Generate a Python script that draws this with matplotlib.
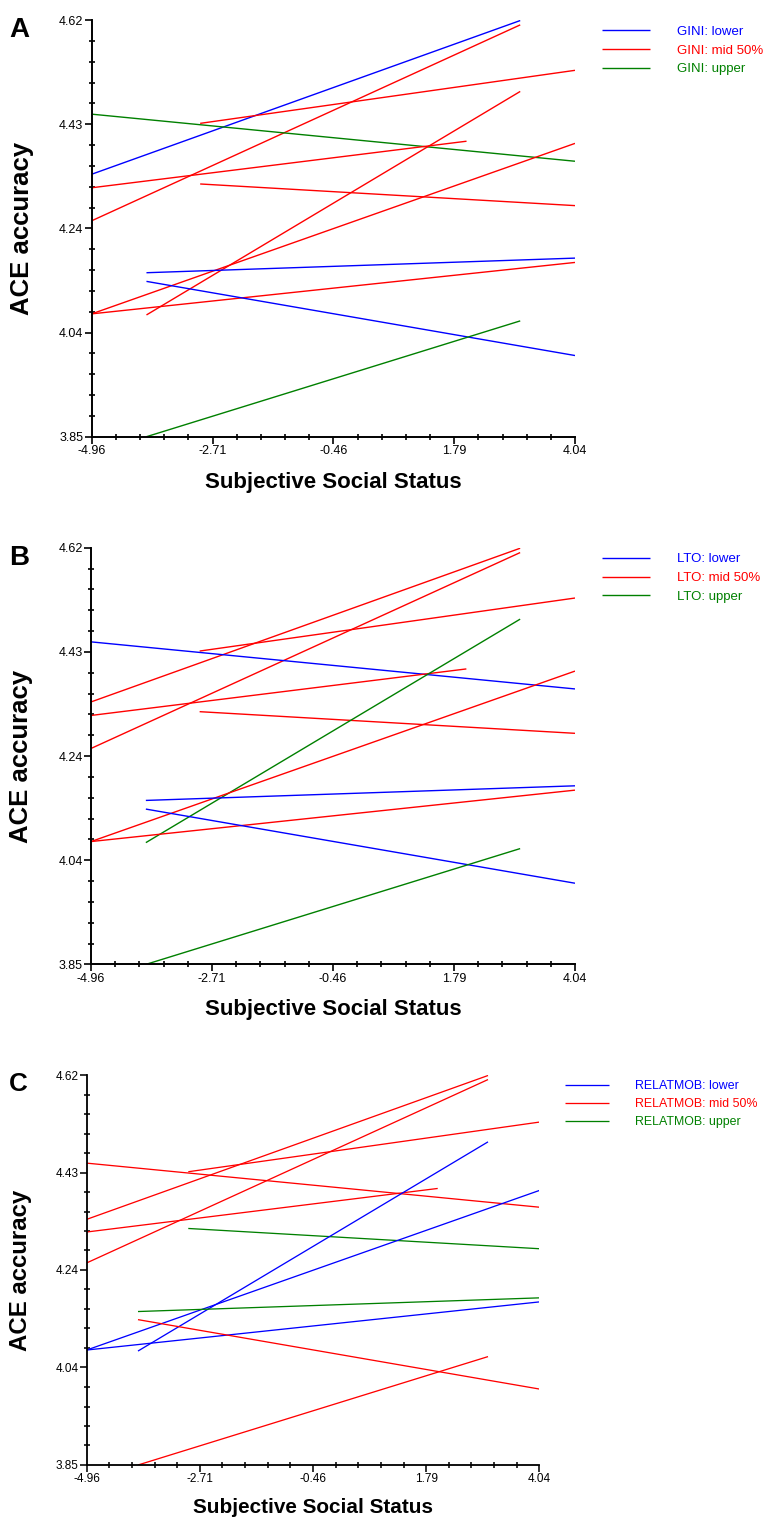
import matplotlib
matplotlib.use("Agg")
import matplotlib.pyplot as plt
import numpy as np

# regression lines, shared by all three panels (same 12 groups, recoloured)
x_start = [-4.96, -4.96, -2.94, -4.96, -4.96, -2.94, -3.94, -4.96, -3.94, -4.96, -3.94, -3.94]
x_end   = [3.02, 3.02, 4.04, 4.04, 2.02, 4.04, 3.02, 4.04, 4.04, 4.04, 4.04, 3.02]
y_start = [4.335, 4.249, 4.429, 4.446, 4.310, 4.317, 4.075, 4.077, 4.153, 4.077, 4.137, 3.850]
y_end   = [4.619, 4.611, 4.527, 4.359, 4.396, 4.277, 4.488, 4.392, 4.180, 4.172, 4.000, 4.064]

# group of each line in each panel: 0 = lower, 1 = mid 50%, 2 = upper
groups_gini = [0, 1, 1, 2, 1, 1, 1, 1, 0, 1, 0, 2]
groups_lto = [1, 1, 1, 0, 1, 1, 2, 1, 0, 1, 0, 2]
groups_relatmob = [1, 1, 1, 1, 1, 2, 0, 0, 2, 0, 1, 1]

group_names = ["lower", "mid 50%", "upper"]
group_colors = ["#0000ff", "#ff0000", "#008000"]

x_ticks = [-4.96, -2.71, -0.46, 1.79, 4.04]
x_tick_labels = ["-4.96", "-2.71", "-0.46", "1.79", "4.04"]
y_ticks = [3.85, 4.0425, 4.235, 4.4275, 4.62]
y_tick_labels = ["3.85", "4.04", "4.24", "4.43", "4.62"]

W, H = 771, 1518
fig = plt.figure(figsize=(W / 100, H / 100), dpi=100)
plt.rcParams["font.family"] = ["Liberation Sans", "DejaVu Sans"]

# panel boxes in pixels: left, top, right, bottom of the axes
panels = [
    ("A", "GINI", groups_gini, (91.7, 20.0, 575.0, 436.7), 1.0),
    ("B", "LTO", groups_lto, (91.0, 547.7, 575.0, 964.4), 1.0),
    ("C", "RELATMOB", groups_relatmob, (86.7, 1075.0, 539.3, 1465.0), 0.936),
]

for letter, var, groups, (l, t, r, b), s in panels:
    ax = fig.add_axes([l / W, (H - b) / H, (r - l) / W, (b - t) / H])
    handles = [None, None, None]
    for i in range(len(x_start)):
        g = groups[i]
        ln, = ax.plot([x_start[i], x_end[i]], [y_start[i], y_end[i]],
                      color=group_colors[g], lw=1.0 * s, solid_capstyle="butt")
        if handles[g] is None:
            handles[g] = ln

    ax.set_xlim(-4.96, 4.04)
    ax.set_ylim(3.85, 4.62)
    for side in ["top", "right"]:
        ax.spines[side].set_visible(False)
    for side in ["left", "bottom"]:
        ax.spines[side].set_linewidth(1.4 * s)

    ax.set_xticks(x_ticks)
    ax.set_xticklabels(x_tick_labels)
    ax.set_yticks(y_ticks)
    ax.set_yticklabels(y_tick_labels)
    ax.set_xticks(np.arange(-4.96, 4.05, 0.45), minor=True)
    ax.set_yticks(np.arange(3.85, 4.621, 0.0385), minor=True)
    ax.tick_params(which="major", direction="out", length=5 * s, width=1.2 * s,
                   labelsize=9 * s, pad=1)
    ax.tick_params(which="minor", direction="inout", length=4 * s, width=1.2 * s)

    ax.set_xlabel("Subjective Social Status", fontsize=16 * s, fontweight="bold")
    ax.set_ylabel("ACE accuracy", fontsize=18.5 * s, fontweight="bold")
    ax.xaxis.set_label_coords(0.5, -(35 * s) / (b - t))
    ax.yaxis.set_label_coords(-(58 * s) / (r - l), 0.5)

    labels = [var + ": " + n for n in group_names]
    ax.legend(handles, labels, loc="upper left",
              bbox_to_anchor=(1.0 + 27 * s / (r - l), 1.0 - 5.5 * s / (b - t)),
              frameon=False, borderpad=0, borderaxespad=0,
              handlelength=3.6, handletextpad=2.1, labelspacing=0.5,
              labelcolor="linecolor", prop={"size": 9.5 * s})

    fig.text(9 / W, 1 - (t - 3) / H, letter, fontsize=20 * s, fontweight="bold",
             ha="left", va="top")

plt.savefig("out.png", dpi=100)
plt.close()
